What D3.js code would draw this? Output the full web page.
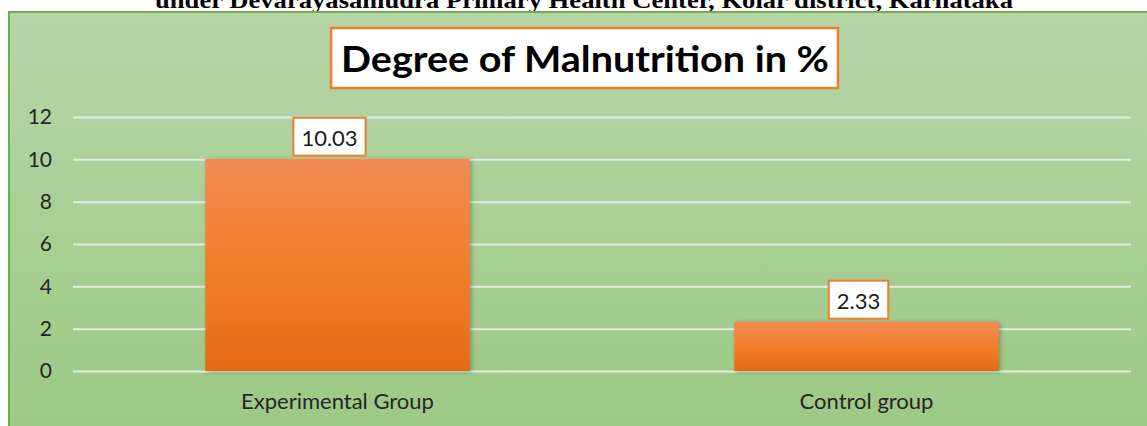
<!DOCTYPE html>
<html lang="en">
<head>
  <meta charset="utf-8">
  <title>Degree of Malnutrition in %</title>
  <script src="https://cdn.jsdelivr.net/npm/d3@7"></script>
  <style>
    body { margin: 0; background: #fff; }
    svg { display: block; }
  </style>
</head>
<body>
<script>
  // data
  const categories = ["Experimental Group", "Control group"];
  const values = [10.03, 2.33];
  const yTicks = [0, 2, 4, 6, 8, 10, 12];
  const pageCaption = "under Devarayasamudra Primary Health Center, Kolar district, Karnataka";
  const chartTitle = "Degree of Malnutrition in %";

  const w = 1147, h = 426;
  const plot = { left: 73, right: 1131, top: 117, bottom: 371 };

  const svg = d3.select("body").append("svg")
    .attr("width", w)
    .attr("height", h);

  const defs = svg.append("defs");

  // green background gradient
  const bg = defs.append("linearGradient").attr("id", "bg")
    .attr("x1", 0).attr("y1", 0).attr("x2", 0).attr("y2", 1);
  bg.append("stop").attr("offset", "0%").attr("stop-color", "#b6d6a8");
  bg.append("stop").attr("offset", "100%").attr("stop-color", "#9cc883");

  // orange bar gradient
  const bar = defs.append("linearGradient").attr("id", "barGrad")
    .attr("x1", 0).attr("y1", 0).attr("x2", 0).attr("y2", 1);
  bar.append("stop").attr("offset", "0%").attr("stop-color", "#f08b55");
  bar.append("stop").attr("offset", "50%").attr("stop-color", "#f37e2b");
  bar.append("stop").attr("offset", "100%").attr("stop-color", "#e46a17");

  const shadow = defs.append("filter").attr("id", "shadow")
    .attr("x", "-5%").attr("y", "-5%").attr("width", "115%").attr("height", "115%");
  shadow.append("feDropShadow")
    .attr("dx", 2).attr("dy", 1).attr("stdDeviation", 2)
    .attr("flood-color", "#3c5a2c").attr("flood-opacity", 0.45);

  // caption line, cut at the top edge like in the source picture
  svg.append("text")
    .attr("x", 584)
    .attr("y", 8)
    .attr("text-anchor", "middle")
    .attr("textLength", 858)
    .attr("lengthAdjust", "spacingAndGlyphs")
    .style("font-family", "'Liberation Serif', 'Times New Roman', serif")
    .style("font-weight", "bold")
    .style("font-size", "23px")
    .attr("fill", "#000")
    .text(pageCaption);

  // chart area
  svg.append("rect")
    .attr("x", 9).attr("y", 12)
    .attr("width", w + 10).attr("height", h + 10)
    .attr("fill", "url(#bg)")
    .attr("stroke", "#70ad47")
    .attr("stroke-width", 2);

  // title box
  svg.append("rect")
    .attr("x", 331).attr("y", 28)
    .attr("width", 507).attr("height", 60)
    .attr("fill", "#fff")
    .attr("stroke", "#ed7d31")
    .attr("stroke-width", 2.5);

  svg.append("text")
    .attr("x", 585)
    .attr("y", 72)
    .attr("text-anchor", "middle")
    .attr("textLength", 488)
    .attr("lengthAdjust", "spacingAndGlyphs")
    .style("font-family", "Lato, 'Open Sans', sans-serif")
    .style("font-weight", "bold")
    .style("font-size", "36px")
    .attr("fill", "#000")
    .text(chartTitle);

  // scales
  const x = d3.scaleBand()
    .domain(categories)
    .range([plot.left, plot.right])
    .paddingInner(0.5)
    .paddingOuter(0.25);

  const y = d3.scaleLinear()
    .domain([0, 12])
    .range([plot.bottom, plot.top]);

  // gridlines + y labels
  const yAxis = svg.append("g")
    .attr("transform", "translate(" + plot.left + ",0)")
    .call(d3.axisLeft(y)
      .tickValues(yTicks)
      .tickSize(-(plot.right - plot.left))
      .tickPadding(21));
  yAxis.select(".domain").remove();
  yAxis.selectAll(".tick line")
    .attr("stroke", "#e4ece0")
    .attr("stroke-width", 2);
  yAxis.selectAll(".tick text")
    .attr("fill", "#262626")
    .style("font-family", "Lato, 'Open Sans', sans-serif")
    .style("font-size", "21px");

  // bars
  svg.selectAll("rect.bar")
    .data(values)
    .enter()
    .append("rect")
    .attr("class", "bar")
    .attr("x", function (d, i) { return x(categories[i]); })
    .attr("y", function (d) { return y(d); })
    .attr("width", x.bandwidth())
    .attr("height", function (d) { return y(0) - y(d); })
    .attr("fill", "url(#barGrad)")
    .attr("filter", "url(#shadow)");

  // x labels
  const xAxis = svg.append("g")
    .attr("transform", "translate(0," + plot.bottom + ")")
    .call(d3.axisBottom(x).tickSize(0).tickPadding(22));
  xAxis.select(".domain").remove();
  xAxis.selectAll(".tick text")
    .attr("fill", "#262626")
    .style("font-family", "Lato, 'Open Sans', sans-serif")
    .style("font-size", "22px");

  // data labels in boxes (sit a bit left of the bar centre, like the source)
  const labels = svg.selectAll("g.dlabel")
    .data(values)
    .enter()
    .append("g")
    .attr("class", "dlabel");

  labels.append("text")
    .attr("x", function (d, i) { return x(categories[i]) + x.bandwidth() / 2 - 8; })
    .attr("y", function (d) { return y(d) - 13; })
    .attr("text-anchor", "middle")
    .attr("fill", "#1a1a1a")
    .style("font-family", "Lato, 'Open Sans', sans-serif")
    .style("font-size", "22px")
    .text(function (d) { return d.toFixed(2); });

  labels.each(function (d) {
    const g = d3.select(this);
    const b = g.select("text").node().getBBox();
    g.insert("rect", "text")
      .attr("x", b.x - 8)
      .attr("y", y(d) - 41)
      .attr("width", b.width + 16)
      .attr("height", 38)
      .attr("fill", "#fff")
      .attr("stroke", "#ed7d31")
      .attr("stroke-width", 2);
  });
</script>
</body>
</html>
